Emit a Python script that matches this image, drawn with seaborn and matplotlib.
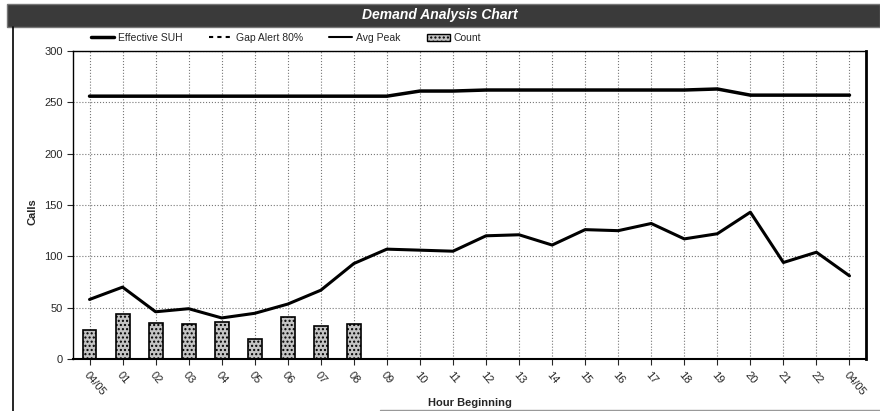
import matplotlib
matplotlib.use("Agg")
import matplotlib.pyplot as plt
from matplotlib.patches import Rectangle, Patch
from matplotlib.lines import Line2D
import seaborn as sns
import numpy as np
import pandas as pd

hours = ["04/05", "01", "02", "03", "04", "05", "06", "07", "08", "09", "10", "11",
         "12", "13", "14", "15", "16", "17", "18", "19", "20", "21", "22", "04/05"]
effective_suh = [256, 256, 256, 256, 256, 256, 256, 256, 256, 256, 261, 261,
                 262, 262, 262, 262, 262, 262, 262, 263, 257, 257, 257, 257]
avg_peak = [58, 70, 46, 49, 40, 44.5, 53.5, 67, 93, 107, 106, 105,
            120, 121, 111, 126, 125, 132, 117, 122, 143, 94, 104, 81]
count = [28, 44, 35, 34, 36, 19, 41, 32, 34]

pos = np.arange(len(hours))
df = pd.DataFrame({"pos": pos, "suh": effective_suh, "peak": avg_peak})
bars = pd.DataFrame({"pos": pos[:len(count)], "count": count})

sns.set_style("white")
plt.rcParams["font.family"] = ["Liberation Sans", "DejaVu Sans"]

fig = plt.figure(figsize=(8.8, 4.11), dpi=100)
ax = fig.add_axes([73 / 880, 1 - 359 / 411, (866 - 73) / 880, (359 - 51) / 411])

# count bars (stippled)
sns.barplot(data=bars, x="pos", y="count", native_scale=True, width=0.42,
            color="#c4c4c4", edgecolor="black", linewidth=1.2, hatch="....", ax=ax)
for p in ax.patches:
    p.set_facecolor("#c4c4c4")

sns.lineplot(data=df, x="pos", y="suh", color="black", lw=2.5, ax=ax)
sns.lineplot(data=df, x="pos", y="peak", color="black", lw=2.2, ax=ax)

ax.set_xlim(-0.5, 23.5)
ax.set_ylim(0, 300)
ax.set_yticks(range(0, 301, 50))
ax.set_xticks(pos)
ax.set_xticklabels(hours, rotation=-50, ha="left", va="top", rotation_mode="anchor",
                   fontsize=8)
ax.tick_params(axis="y", labelsize=8, length=4, direction="out", left=True)
ax.tick_params(axis="x", length=4, direction="out", bottom=True)
ax.grid(True, ls=":", color="#777777", lw=0.8)
for s in ax.spines.values():
    s.set_color("black")
    s.set_linewidth(1.0)
ax.spines["right"].set_linewidth(2)
ax.spines["bottom"].set_linewidth(1.5)
ax.set_xlabel("Hour Beginning", fontsize=8, fontweight="bold")
ax.set_ylabel("Calls", fontsize=8, fontweight="bold")
ax.xaxis.set_label_coords(0.5, -0.125)
ax.yaxis.set_label_coords(-0.045, 0.477)

# title bar
fig.patches.append(Rectangle((0.008, 1 - 27 / 411), 0.992, 23 / 411, transform=fig.transFigure,
                             facecolor="#3a3a3a", edgecolor="#777777", lw=1))
fig.text(0.5, 1 - 15 / 411, "Demand Analysis Chart", color="white", fontsize=10,
         fontweight="bold", fontstyle="italic", ha="center", va="center")
# left frame line
fig.lines.append(Line2D([13 / 880, 13 / 880], [0, 1 - 27 / 411], transform=fig.transFigure,
                        color="black", lw=1.2))
fig.lines.append(Line2D([380 / 880, 1], [1.5 / 411, 1.5 / 411], transform=fig.transFigure,
                        color="#999999", lw=1))

handles = [Line2D([], [], color="black", lw=2.5),
           Line2D([], [], color="black", lw=1.5, ls=(0, (2, 2))),
           Line2D([], [], color="black", lw=1.5),
           Patch(facecolor="#c4c4c4", edgecolor="black", hatch="....")]
fig.legend(handles, ["Effective SUH", "Gap Alert 80%", "Avg Peak", "Count"],
           loc="center left", bbox_to_anchor=(82 / 880, 1 - 38 / 411), ncol=4,
           frameon=False, fontsize=7.5, handlelength=2.2, handletextpad=0.4,
           columnspacing=2.5)

fig.savefig("out.png", dpi=100)
